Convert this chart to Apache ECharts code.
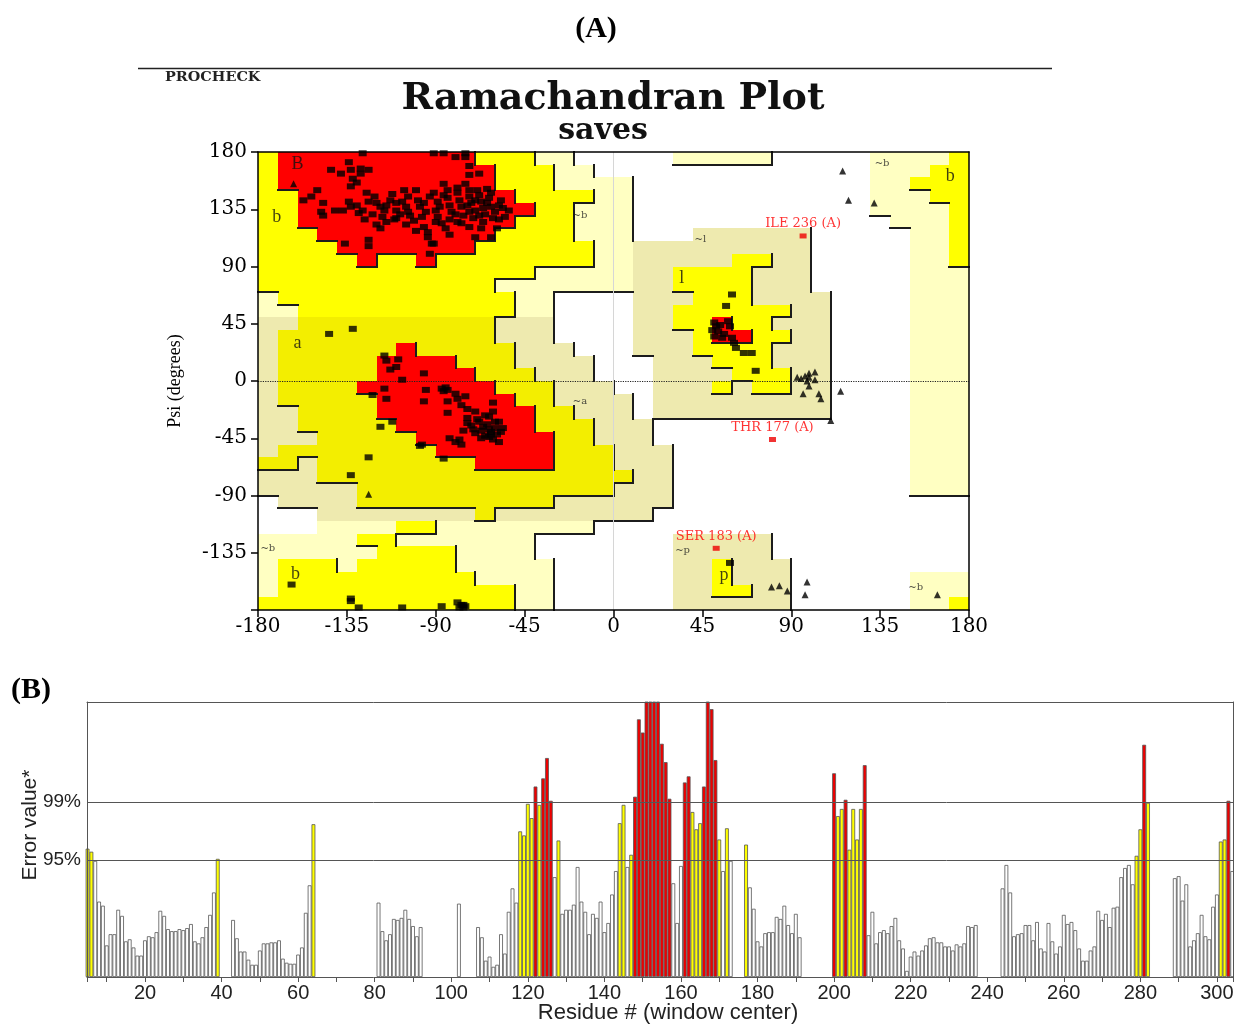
<!DOCTYPE html>
<html>
<head>
<meta charset="utf-8">
<script src="https://cdn.jsdelivr.net/npm/echarts@6/dist/echarts.min.js"></script>
<style>
html,body{margin:0;padding:0;background:#ffffff;}
#chart{width:1234px;height:1025px;}
</style>
</head>
<body>
<div id="chart"></div>
<script>
// ================= Panel A : Ramachandran plot data =================
// 10-degree region map, rows from psi 180 (top) down to -180, columns phi -180 .. 180
// R core, Y/y allowed, G/g generously allowed, . disallowed  (run-length: char + count)
const REGION_RUNS = [
  'Y1 R10 Y3 g2 .5 g5 .5 g4 Y1',
  'Y1 R11 Y3 g2 .14 g3 Y2',
  'Y1 R11 Y3 g4 .12 g2 Y3',
  'Y2 R11 Y4 g2 .12 g3 Y2',
  'Y2 R12 Y2 g3 .12 g4 Y1',
  'Y2 R11 Y3 g3 .13 g3 Y1',
  'Y3 R9 Y4 g3 .3 G6 .5 g2 Y1',
  'Y4 R7 Y6 g2 G9 .5 g2 Y1',
  'Y5 R1 Y2 R1 Y8 g2 G5 Y2 G2 .5 g2 Y1',
  'Y14 g5 G2 Y4 G3 .5 g3',
  'Y12 g7 G2 Y4 G3 .5 g3',
  'g1 Y12 g2 .4 G3 Y3 G4 .4 g3',
  'g2 Y11 g2 .4 G2 Y6 G2 .4 g3',
  'G2 y10 G3 .4 G2 Y2 R1 Y2 G3 .4 g3',
  'G1 y11 G3 .4 G3 Y1 R2 Y2 G2 .4 g3',
  'G1 y6 R1 y5 G3 .3 G3 Y4 G3 .4 g3',
  'G1 y5 R4 y3 G4 .3 G3 Y3 G3 .4 g3',
  'G1 y5 R5 y3 G3 .3 G4 Y3 G2 .4 g3',
  'G1 y4 R7 y3 G3 .2 G3 Y1 G1 Y2 G2 .4 g3',
  'G1 y5 R7 y2 G4 .1 G9 .4 g3',
  'G2 y4 R8 y2 G3 .1 G9 .4 g3',
  'G2 y5 R7 y3 G3 .13 g3',
  'G3 y5 R7 y2 G3 .13 g3',
  'G1 y8 R6 y3 G3 .12 g3',
  'y2 G1 y8 R4 y3 G3 .12 g3',
  'G3 y16 G2 .12 g3',
  'G5 y13 G3 .12 g3',
  '.1 G4 y10 G6 .15',
  '.3 G8 y1 G8 .16',
  '.3 g4 Y2 g8 .19',
  'g5 Y2 g7 .7 G5 .10',
  'g6 Y4 g4 .7 G5 .10',
  'g1 Y3 g1 Y5 g5 .6 G2 Y1 G3 .9',
  'g1 Y10 g4 .6 G2 Y1 G3 .6 g3',
  'g1 Y12 g2 .6 G2 Y2 G2 .6 g3',
  'Y13 g2 .6 G6 .6 g2 Y1'
];

// non-glycine residues [phi, psi]
const generalResidues = [
  [-127,179],[-91,179],[-86,179],[-80,176],[-75,179],[-75,176],[-73,169],[-73,162],[-68,163],
  [-134,172],[-143,166],[-138,163],[-133,166],[-128,167],[-128,163],[-124,166],[-132,159],[-130,156],[-133,153],
  [-150,150],[-153,145],[-157,142],[-147,140],[-148,133],[-147,130],[-141,134],[-137,134],[-134,141],[-133,137],[-130,138],[-127,134],[-129,132],
  [-125,148],[-124,141],[-121,145],[-120,140],[-116,134],[-117,129],[-120,123],[-118,120],
  [-113,142],[-110,140],[-110,134],[-111,127],[-106,150],[-104,145],[-105,137],[-103,130],[-105,123],
  [-100,150],[-99,142],[-98,137],[-97,129],[-96,121],[-94,117],[-94,113],[-92,108],[-93,100],
  [-91,148],[-89,141],[-90,134],[-89,129],[-87,124],[-86,155],[-84,150],[-84,144],[-83,138],[-82,133],[-83,127],[-83,115],
  [-79,152],[-79,148],[-78,142],[-77,137],[-76,130],[-77,124],[-75,155],[-73,150],[-73,145],[-72,140],[-73,133],[-71,128],[-73,121],[-70,113],
  [-69,150],[-68,146],[-67,141],[-66,136],[-68,130],[-66,125],[-64,151],[-62,148],[-63,144],[-62,137],[-60,133],[-59,120],[-58,127],[-62,113],
  [-57,142],[-56,136],[-53,134],[-124,111],[-124,106],[-136,108],[-91,108],
  [-115,138],[-108,131],[-101,126],[-95,133],[-88,137],[-80,131],[-74,138],[-70,134],[-65,131],[-61,128],[-93,145],[-86,146],
  [-107,141],[-112,147],[-118,137],[-122,131],[-126,127],[-100,118],[-96,140],[-79,125],[-70,142],[-64,140],[-58,138],[-55,129],
  [-67,120],[-85,120],[-90,125],[-104,133],[-110,128],[-115,125],
  [-144,37],[-132,41],
  [-116,20],[-115,16],[-109,17],[-113,9],[-110,11],[-107,1],[-96,6],
  [-116,-6],[-122,-11],[-115,-14],[-118,-36],[-112,-32],[-95,-7],[-96,-16],[-87,-6],[-85,-5],[-86,-8],[-84,-7],[-80,-10],
  [-79,-14],[-84,-16],[-75,-12],[-77,-19],[-74,-22],[-70,-24],[-84,-25],[-61,-17],[-61,-24],[-63,-28],[-60,-32],[-58,-32],
  [-56,-37],[-63,-38],[-67,-39],[-65,-43],[-62,-42],[-70,-41],[-72,-35],[-74,-29],[-74,-33],[-76,-39],[-68,-32],[-60,-37],
  [-63,-44],[-58,-48],[-83,-45],[-80,-48],[-77,-50],[-78,-46],[-97,-50],[-98,-51],[-86,-61],[-124,-60],[-133,-74],
  [-66,-36],[-64,-34],[-62,-40],[-59,-42],[-67,-45],[-71,-38],[-69,-30],[-57,-40],[-61,-46],[-65,-27],
  [-163,-160],[-133,-171],[-133,-173],[-129,-178],[-107,-178],[-87,-177],[-79,-174],[-77,-176],[-76,-176],[-78,-178],[-76,-178],[-75,-177],
  [60,68],[57,59],[51,46],[52,43],[53,39],[51,35],[55,34],[58,47],[59,43],[60,34],[61,30],[62,26],[66,22],[70,22],[72,8],
  [50,40],[54,44],[56,37],[59,-143]
];

// glycine residues [phi, psi]
const glycineResidues = [
  [-162,155],[116,165],[119,142],[132,140],[93,3],[95,2],[97,4],[98,0],[99,3],[99,6],[102,7],[102,1],[99,-4],
  [96,-10],[104,-10],[105,-14],[115,-8],[110,-31],[80,-162],[84,-161],[88,-165],[98,-158],[97,-168],[164,-168],[-124,-89]
];

// residues in disallowed regions
const outlierResidues = [[96,114],[80.5,-46],[52,-131.5]];
const outlierNames = ['ILE 236 (A)','THR 177 (A)','SER 183 (A)'];

// region letters [phi, psi, text]
const regionLabels = [
  [-160,170,'B'],[-170.5,129,'b'],[-160,30,'a'],[-17,130.5,'~b'],[-17,-16,'~a'],
  [34.5,81,'l'],[44,111,'~l'],[136,171,'~b'],[170.5,161,'b'],
  [35,-133,'~p'],[56,-153,'p'],[153,-162,'~b'],[-175,-131.5,'~b'],[-161,-152,'b']
];

// ================= Panel B : ERRAT data =================
const ERRAT_FIRST_RESIDUE = 5;
const erratValues = [
  12.6,12.3,11.4,7.4,7.0,                       // 5-9
  3.1,4.2,4.2,6.6,6.0,3.5,3.7,2.9,2.1,2.1,      // 10-19
  3.6,4.0,3.9,4.4,6.5,6.0,4.7,4.5,4.5,4.7,      // 20-29
  4.6,4.8,5.2,3.5,3.3,3.9,4.9,6.1,8.3,11.6,     // 30-39
  0,0,0,5.6,3.8,2.5,2.5,1.7,1.2,1.2,            // 40-49
  2.6,3.3,3.3,3.4,3.4,3.6,1.8,1.4,1.3,1.3,      // 50-59
  2.2,2.9,6.3,9.0,15.0,0,0,0,0,0,               // 60-69
  0,0,0,0,0,0,0,0,0,0,                          // 70-79
  0,7.3,4.5,3.6,4.2,5.7,5.6,5.8,6.6,5.7,        // 80-89
  5.0,4.0,4.9,0,0,0,0,0,0,0,                    // 90-99
  0,0,7.2,0,0,0,0,4.9,3.9,1.6,                  // 100-109
  2.0,1.0,1.2,4.2,2.3,6.4,8.7,7.3,14.3,13.9,    // 110-119
  17.0,15.6,18.7,16.9,19.5,21.5,17.3,9.8,13.4,6.2, // 120-129
  6.6,6.6,7.1,10.8,7.4,6.4,4.2,6.2,5.8,7.4,     // 130-139
  4.4,5.3,8.1,10.4,15.1,16.9,10.8,12.0,17.7,25.3, // 140-149
  24.0,28,28,28,28,22.9,21.1,17.5,9.2,5.3,      // 150-159
  10.9,19.1,19.7,16.2,14.5,15.1,18.7,28,26.3,21.3, // 160-169
  13.5,10.4,14.6,11.4,0,0,0,13.0,8.8,6.7,       // 170-179
  3.5,3.0,4.3,4.4,4.4,5.9,5.7,7.0,5.1,4.3,      // 180-189
  6.2,3.9,0,0,0,0,0,0,0,0,                      // 190-199
  20.0,15.8,16.5,17.4,12.5,16.5,13.5,16.5,20.8,4.1, // 200-209
  6.4,3.3,4.4,4.6,4.3,5.0,5.8,3.6,2.8,0.6,      // 210-219
  2.0,2.5,2.1,2.6,3.1,3.8,3.9,3.4,3.4,3.0,      // 220-229
  3.0,2.6,3.2,3.0,3.3,5.0,4.9,5.1,0,0,          // 230-239
  0,0,0,0,8.7,11.0,8.3,4.0,4.2,4.3,             // 240-249
  5.1,5.1,3.6,5.4,2.8,2.5,5.3,3.5,2.3,3.0,      // 250-259
  6.1,5.2,5.4,4.6,2.8,1.6,1.6,2.6,3.0,6.5,      // 260-269
  5.6,6.2,4.9,6.8,6.9,9.8,10.7,11.0,9.1,11.9,   // 270-279
  14.5,22.8,17.1,0,0,0,0,0,0,9.7,               // 280-289
  9.9,7.5,9.1,3.0,3.6,4.3,6.1,4.0,3.7,6.9,      // 290-299
  8.1,13.3,13.5,17.3,10.4                       // 300-304
];
const LIMIT_95 = 11.5;
const LIMIT_99 = 17.2;

// ================= build =================
const REGION_ROWS = REGION_RUNS.map(s => s.split(' ').map(t => t[0].repeat(parseInt(t.slice(1), 10))).join(''));
const LEVEL = {R:4, Y:3, y:3, G:2, g:2, '.':1};
const REGION_COLOR = {R:'#FF0000', Y:'#FFFF00', y:'#F3EE00', G:'#EEEAAF', g:'#FFFFC2'};

const regionCells = [];
REGION_ROWS.forEach((row, j) => {
  for (let k = 0; k < row.length; k++) {
    if (row[k] !== '.') regionCells.push([-180 + 10 * k, 180 - 10 * j, k, j]);
  }
});

function cellRect(api) {
  const a = api.coord([api.value(0), api.value(1)]);
  const b = api.coord([api.value(0) + 10, api.value(1) - 10]);
  return [[Math.round(a[0]), Math.round(a[1])], [Math.round(b[0]), Math.round(b[1])]];
}
function renderRegionFill(params, api) {
  const k = api.value(2), j = api.value(3);
  const ch = REGION_ROWS[j][k];
  const [a, b] = cellRect(api);
  return {type:'rect', shape:{x:a[0], y:a[1], width:b[0]-a[0], height:b[1]-a[1]},
          style:{fill:REGION_COLOR[ch]}};
}
function renderRegionBorder(params, api) {
  const k = api.value(2), j = api.value(3);
  const row = REGION_ROWS[j];
  const lv = LEVEL[row[k]];
  const [a, b] = cellRect(api);
  const children = [];
  const st = {stroke:'#1c1c1c', lineWidth:2};
  if (k < 35 && lv > LEVEL[row[k + 1]]) children.push({type:'line', shape:{x1:b[0], y1:a[1]-1, x2:b[0], y2:b[1]+1}, style:st});
  if (j < 35 && lv > LEVEL[REGION_ROWS[j + 1][k]]) children.push({type:'line', shape:{x1:a[0]-1, y1:b[1], x2:b[0]+1, y2:b[1]}, style:st});
  return {type:'group', children:children};
}

const erratBars = erratValues.map((v, i) => [ERRAT_FIRST_RESIDUE + i, v]).filter(d => d[1] > 0);
const ERR_X_MIN = 4.85, ERR_X_MAX = 304.2;

const SERIF_D = '"DejaVu Serif", serif';
const SERIF_T = '"Liberation Serif", "Times New Roman", serif';
const SANS = '"Liberation Sans", Arial, Helvetica, sans-serif';

const frameAxisA = {axisLine:{show:true, onZero:false, lineStyle:{color:'#000', width:1.5}}, axisTick:{show:false}, axisLabel:{show:false}, splitLine:{show:false}, z:10};
const frameAxisB = {axisLine:{show:true, onZero:false, lineStyle:{color:'#555', width:1}}, axisTick:{show:false}, axisLabel:{show:false}, splitLine:{show:false}, z:10};

const option = {
  animation:false,
  backgroundColor:'#ffffff',
  grid:[
    {left:258, top:152, width:711, height:458, show:false, outerBoundsMode:'none', containLabel:false},
    {left:87, top:702, width:1146, height:275, show:false, outerBoundsMode:'none', containLabel:false}
  ],
  xAxis:[
    {gridIndex:0, type:'value', min:-180, max:180, interval:45, z:10,
     axisLine:{show:true, onZero:false, lineStyle:{color:'#000', width:1.5}},
     axisTick:{show:true, length:7, lineStyle:{color:'#000', width:1.5}},
     axisLabel:{fontFamily:SERIF_D, fontSize:20, color:'#000', margin:7, showMinLabel:true, showMaxLabel:true},
     splitLine:{show:false}},
    Object.assign({gridIndex:0, type:'value', position:'top', min:-180, max:180}, frameAxisA),
    {gridIndex:1, type:'value', min:ERR_X_MIN, max:ERR_X_MAX, splitNumber:30, z:10,
     axisLine:{show:true, onZero:false, lineStyle:{color:'#555', width:1}},
     axisTick:{show:true, length:5, lineStyle:{color:'#555'}},
     axisLabel:{formatter:function(v){ return (Math.abs(v % 20) < 1e-6) ? String(Math.round(v)) : ''; },
                fontFamily:SANS, fontSize:20, color:'#222', margin:6},
     splitLine:{show:false}},
    Object.assign({gridIndex:1, type:'value', position:'top', min:ERR_X_MIN, max:ERR_X_MAX}, frameAxisB)
  ],
  yAxis:[
    {gridIndex:0, type:'value', min:-180, max:180, interval:45, z:10,
     axisLine:{show:true, onZero:false, lineStyle:{color:'#000', width:1.5}},
     axisTick:{show:true, length:7, lineStyle:{color:'#000', width:1.5}},
     axisLabel:{formatter:function(v){ return v === -180 ? '' : String(v); }, fontFamily:SERIF_D, fontSize:20, color:'#000', margin:11},
     splitLine:{show:false},
     name:'Psi (degrees)', nameLocation:'middle', nameGap:74, nameRotate:90,
     nameTextStyle:{fontFamily:SERIF_T, fontSize:18, color:'#000'}},
    Object.assign({gridIndex:0, type:'value', position:'right', min:-180, max:180}, frameAxisA),
    {gridIndex:1, type:'value', min:0, max:27, z:10,
     axisLine:{show:true, onZero:false, lineStyle:{color:'#555', width:1}},
     axisTick:{show:false}, axisLabel:{show:false}, splitLine:{show:false}},
    Object.assign({gridIndex:1, type:'value', position:'right', min:0, max:27}, frameAxisB)
  ],
  graphic:[
    {type:'text', x:596, y:29, style:{text:'(A)', font:'bold 30px "Liberation Serif"', fill:'#000', align:'center', verticalAlign:'middle', textAlign:'center', textVerticalAlign:'middle'}},
    {type:'line', shape:{x1:138, y1:68.5, x2:1052, y2:68.5}, style:{stroke:'#222', lineWidth:1.5}},
    {type:'text', x:165, y:78, scaleX:1.2, style:{text:'PROCHECK', font:'bold 12px "DejaVu Serif"', fill:'#222', align:'left', verticalAlign:'middle', textAlign:'left', textVerticalAlign:'middle'}},
    {type:'text', x:613, y:99, style:{text:'Ramachandran Plot', font:'bold 38px "DejaVu Serif"', fill:'#111', align:'center', verticalAlign:'middle', textAlign:'center', textVerticalAlign:'middle'}},
    {type:'text', x:603, y:131, style:{text:'saves', font:'bold 30px "DejaVu Serif"', fill:'#111', align:'center', verticalAlign:'middle', textAlign:'center', textVerticalAlign:'middle'}},
    {type:'text', x:31, y:690, style:{text:'(B)', font:'bold 30px "Liberation Serif"', fill:'#000', align:'center', verticalAlign:'middle', textAlign:'center', textVerticalAlign:'middle'}},
    {type:'text', x:30, y:825, rotation:Math.PI / 2, style:{text:'Error value*', font:'21px "Liberation Sans"', fill:'#222', align:'center', verticalAlign:'middle', textAlign:'center', textVerticalAlign:'middle'}},
    {type:'text', x:668, y:1013, style:{text:'Residue # (window center)', font:'22px "Liberation Sans"', fill:'#222', align:'center', verticalAlign:'middle', textAlign:'center', textVerticalAlign:'middle'}}
  ],
  series:[
    {type:'custom', name:'regions', xAxisIndex:0, yAxisIndex:0, z:1, silent:true,
     data:regionCells, encode:{x:0, y:1}, renderItem:renderRegionFill},
    {type:'custom', name:'regionBorders', xAxisIndex:0, yAxisIndex:0, z:2, silent:true,
     data:regionCells, encode:{x:0, y:1}, renderItem:renderRegionBorder},
    {type:'scatter', name:'labels', xAxisIndex:0, yAxisIndex:0, z:3, silent:true,
     symbolSize:1, itemStyle:{color:'rgba(0,0,0,0)'},
     data:regionLabels.map(d => ({value:[d[0], d[1]], name:d[2]})),
     label:{show:true, position:'inside', color:'#111',
            formatter:function(p){ return p.name.charAt(0) === '~' ? '{s|' + p.name + '}' : '{b|' + p.name + '}'; },
            rich:{s:{fontFamily:SERIF_D, fontSize:10, color:'#222'}, b:{fontFamily:SERIF_T, fontSize:18, color:'#111'}}}},
    {type:'scatter', name:'residues', xAxisIndex:0, yAxisIndex:0, z:5, silent:true,
     symbol:'rect', symbolSize:[8,6], itemStyle:{color:'#000'}, data:generalResidues,
     markLine:{silent:true, symbol:['none','none'], label:{show:false},
       data:[
         {yAxis:0, lineStyle:{type:'dotted', color:'#222', width:1.2}},
         {xAxis:0, lineStyle:{type:'solid', color:'#d6d6d6', width:1}}
       ]}},
    {type:'scatter', name:'glycine', xAxisIndex:0, yAxisIndex:0, z:5, silent:true,
     symbol:'triangle', symbolSize:7, itemStyle:{color:'#000'}, data:glycineResidues},
    {type:'scatter', name:'outliers', xAxisIndex:0, yAxisIndex:0, z:6, silent:true,
     symbol:'rect', symbolSize:[7,5], itemStyle:{color:'#EE0000'},
     data:outlierResidues.map((d, i) => ({value:d, name:outlierNames[i]})),
     label:{show:true, position:'top', distance:3, formatter:'{b}', fontFamily:SERIF_D, fontSize:13, color:'#FF0000'}},
    {type:'line', name:'limits', xAxisIndex:2, yAxisIndex:2, z:1, silent:true, data:[], showSymbol:false,
     markLine:{silent:true, symbol:['none','none'], lineStyle:{color:'#555', width:1, type:'solid'},
       label:{show:true, position:'start', distance:6, fontFamily:SANS, fontSize:19, color:'#222'},
       data:[
         {yAxis:LIMIT_95, label:{formatter:'95%'}},
         {yAxis:LIMIT_99, label:{formatter:'99%'}}
       ]}},
    {type:'bar', name:'errat', xAxisIndex:2, yAxisIndex:2, z:3, silent:true, barWidth:3.83,
     data:erratBars,
     itemStyle:{borderColor:'#555', borderWidth:0.8,
       color:function(p){ const v = p.value[1]; return v > LIMIT_99 ? '#EE0000' : (v > LIMIT_95 ? '#FFFF00' : '#FFFFFF'); }}}
  ]
};

const chart = echarts.init(document.getElementById('chart'), null, {renderer:'canvas'});
chart.setOption(option);
</script>
</body>
</html>
